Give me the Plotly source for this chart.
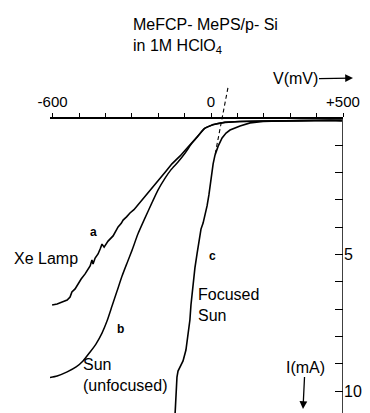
import plotly.graph_objects as go

# Curve a: Xe lamp (V in mV, I in mA, cathodic current positive downward)
xe_v = [-602, -583, -564, -545, -534, -527, -515, -504, -492, -477, -466, -458, -451, -447,
        -439, -428, -420, -413, -405, -390, -371, -360, -352, -340, -333, -320, -307, -292,
        -280, -261, -242, -220, -193, -170, -148, -117, -87, -61, -42, -23, 8, 53, 110, 186,
        337, 451, 496]
xe_i = [6.85, 6.81, 6.74, 6.67, 6.56, 6.37, 6.26, 6.08, 5.90, 5.71, 5.53, 5.42, 5.20, 5.35,
        5.13, 4.98, 4.80, 4.62, 4.73, 4.51, 4.32, 4.14, 3.99, 3.86, 3.74, 3.62, 3.48, 3.36,
        3.22, 3.04, 2.82, 2.53, 2.23, 1.94, 1.68, 1.39, 1.06, 0.77, 0.55, 0.37, 0.24, 0.16,
        0.13, 0.11, 0.11, 0.09, 0.11]

# Curve b: Sun (unfocused)
sun_v = [-617, -583, -545, -511, -485, -458, -436, -413, -394, -375, -356, -337, -318, -299,
         -277, -250, -224, -201, -174, -152, -125, -98, -72, -49, -27, 4, 53, 110, 223, 337,
         451, 496]
sun_i = [9.52, 9.45, 9.30, 9.12, 8.90, 8.57, 8.28, 7.88, 7.44, 6.89, 6.34, 5.79, 5.31, 4.84,
         4.25, 3.66, 3.11, 2.64, 2.20, 1.90, 1.61, 1.28, 0.92, 0.66, 0.40, 0.26, 0.16, 0.13,
         0.11, 0.09, 0.07, 0.07]

# Curve c: Focused sun
foc_v = [-136, -134, -133, -129, -125, -117, -106, -95, -87, -80, -76, -72, -68, -61, -53,
         -45, -38, -30, -23, -15, -8, -4, 4, 8, 15, 27, 42, 57, 72, 91, 110, 148, 197, 261,
         337, 496]
foc_i = [10.81, 10.33, 9.89, 9.49, 9.27, 9.12, 8.90, 8.50, 7.95, 7.40, 6.85, 6.41, 5.97,
         5.49, 4.98, 4.51, 4.07, 3.85, 3.59, 3.22, 2.82, 2.53, 2.09, 1.68, 1.36, 1.03, 0.73,
         0.55, 0.44, 0.37, 0.29, 0.18, 0.13, 0.11, 0.09, 0.09]

# Dashed extrapolation of curve c
ext_v = [64, 15]
ext_i = [-1.10, 1.36]

x_tickvals = [-600, -500, -400, -300, -200, -100, 0, 100, 200, 300, 400, 500]
x_ticktext = ["-600", "", "", "", "", "", "0", "", "", "", "", "+500"]
y_tickvals = [1, 2, 3, 4, 5, 6, 7, 8, 9, 10]
y_ticktext = ["", "", "", "", "5", "", "", "", "", "10"]

X_RANGE = [-610, 500]
Y_RANGE = [10.806, -4.322]

FONT = "Liberation Sans, Arial, Helvetica, sans-serif"
line_style = dict(color="black", width=1.6)

fig = go.Figure()
fig.add_trace(go.Scatter(x=xe_v, y=xe_i, mode="lines", line=line_style))
fig.add_trace(go.Scatter(x=sun_v, y=sun_i, mode="lines", line=dict(color="black", width=1.5, shape="spline", smoothing=0.6)))
fig.add_trace(go.Scatter(x=foc_v, y=foc_i, mode="lines", line=line_style))
fig.add_trace(go.Scatter(x=ext_v, y=ext_i, mode="lines", line=dict(color="black", width=1.1, dash="4px,3px")))

pos_x_axis = Y_RANGE[0] / (Y_RANGE[0] - Y_RANGE[1])

fig.update_layout(
    width=370, height=413,
    margin=dict(l=50, r=27, t=0, b=0),
    paper_bgcolor="white", plot_bgcolor="white",
    showlegend=False,
    font=dict(family=FONT, color="black"),
    xaxis=dict(range=X_RANGE, side="top", anchor="free", position=pos_x_axis,
               showline=True, linecolor="black", linewidth=1.5,
               ticks="outside", ticklen=4, tickwidth=1.2, tickcolor="black",
               tickvals=x_tickvals, ticktext=x_ticktext,
               tickfont=dict(size=15, family=FONT, color="black"),
               showgrid=False, zeroline=False),
    yaxis=dict(range=Y_RANGE, side="right", anchor="x",
               showline=False, ticks="inside", ticklen=8, tickwidth=1.2, tickcolor="black",
               tickvals=y_tickvals, ticktext=y_ticktext,
               tickfont=dict(size=16, family=FONT, color="black"),
               showgrid=False, zeroline=False),
)

# right-hand current axis line (starts at I = 0)
fig.add_shape(type="line", xref="x", yref="y", x0=500, x1=500, y0=0, y1=Y_RANGE[0],
              line=dict(color="black", width=1.5))

def px_x(p):
    return (p - 50) / 293.0

def px_y(p):
    return (413 - p) / 413.0

def label(text, x, y, xanchor="left", size=16, bold=False):
    fig.add_annotation(text=text, xref="paper", yref="paper", x=px_x(x), y=px_y(y),
                       xanchor=xanchor, yanchor="middle", showarrow=False, align="left",
                       font=dict(size=size, family=FONT, color="black",
                                 weight="bold" if bold else "normal"))

label("MeFCP- MePS/p- Si", 131, 24)
label("in 1M HClO<sub>4</sub>", 131, 46)
label("Xe Lamp", 12, 258)
label("a", 93, 232, xanchor="center", size=12, bold=True)
label("b", 120, 329, xanchor="center", size=12, bold=True)
label("c", 212, 256, xanchor="center", size=12, bold=True)
label("Sun<br>(unfocused)", 81, 375)
label("Focused<br>Sun", 196, 305)

# axis titles with their arrows (arrow drawn from the text to the head point)
fig.add_annotation(text="V(mV)", xref="paper", yref="paper", x=px_x(353), y=px_y(78),
                   ax=-58, ay=1, showarrow=True, arrowhead=2, arrowsize=1.2,
                   arrowwidth=1.3, arrowcolor="black", standoff=0, startstandoff=0,
                   font=dict(size=16, family=FONT, color="black"))
fig.add_annotation(text="I(mA)", xref="paper", yref="paper", x=px_x(303), y=px_y(409),
                   ax=2, ay=-42, showarrow=True, arrowhead=2, arrowsize=1.2,
                   arrowwidth=1.3, arrowcolor="black", standoff=0, startstandoff=0,
                   font=dict(size=16, family=FONT, color="black"))

fig.write_html("out.html", config={"displayModeBar": False},
               post_script="document.body.style.margin='0';document.body.style.overflow='hidden';")
